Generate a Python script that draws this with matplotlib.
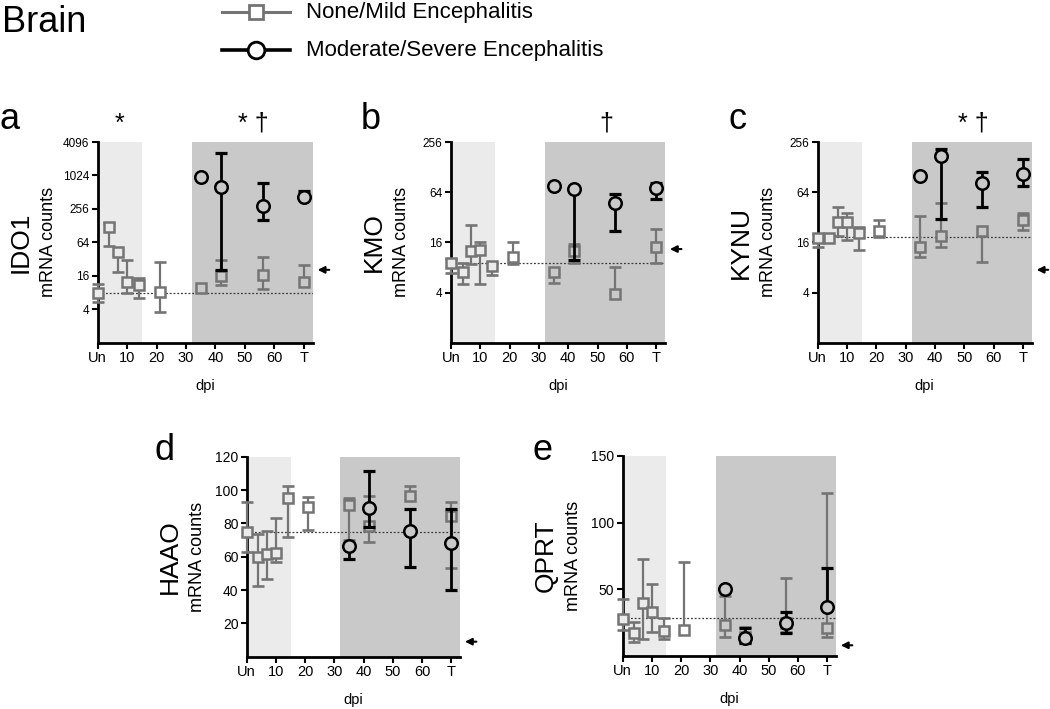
import matplotlib
matplotlib.use("Agg")
import matplotlib.pyplot as plt
from matplotlib.lines import Line2D

plt.rcParams['font.family'] = ['Liberation Sans', 'DejaVu Sans']

# ---- data ----
days_mild = [0, 4, 7, 10, 14, 21, 35, 42, 56, 70]
days_sev = [35, 42, 56, 70]
tick_days = [0, 10, 20, 30, 40, 50, 60, 70]
tick_names = ['Un', '10', '20', '30', '40', '50', '60', 'T']

ido1_mild = [7.8, 121, 43, 12.3, 11, 8.1, 9.8, 15.6, 16.7, 12.3]
ido1_mild_lo = [5.5, 54, 18.4, 7.8, 6.5, 3.5, None, 11, 9.3, None]
ido1_mild_hi = [11.5, 143, None, 31, 14.5, 27.9, None, 31, 34.8, 25.2]
ido1_sev = [968, 640, 294, 416]
ido1_sev_lo = [None, 20.5, 164, None]
ido1_sev_hi = [None, 2556, 735, 549]

kmo_mild = [9.0, 7.0, 12.7, 13, 8.4, 10.8, 7.0, 12.5, 3.8, 14]
kmo_mild_lo = [6.9, 5.0, 8.9, 5.0, 6.5, 8.9, 5.2, 9.0, None, 9.0]
kmo_mild_hi = [10.0, 9.0, 26, 16, 9.0, 16, None, 15.5, 8, 23]
kmo_sev = [75.7, 70, 47.6, 72]
kmo_sev_lo = [None, 9.9, 21.7, 53.6]
kmo_sev_hi = [None, None, 61.6, 83]

kynu_mild = [18.3, 18.3, 28, 28, 21, 22, 14, 19.3, 22, 29.4]
kynu_mild_lo = [14, None, 19.3, 17, 13, 18.5, 10.8, 14, 9.2, 22.6]
kynu_mild_hi = [20, None, 43, 36, 24.4, 29.4, 33, 48, None, 36]
kynu_sev = [101, 176, 82, 105]
kynu_sev_lo = [None, 30.8, 42.4, 76]
kynu_sev_hi = [None, 210, 112, 160]

haao_mild = [75, 60, 61.6, 62, 95, 89.6, 91, 78.4, 96.6, 84.4]
haao_mild_lo = [63, 42.4, 46.4, 56.6, 71.6, 76, 70, 68.6, None, 53]
haao_mild_hi = [92.6, 73.4, 75.4, 83, 102.6, 96, 95.4, 96.4, 102.6, 92.6]
haao_sev = [66.4, 89, 75.6, 68]
haao_sev_lo = [58.6, 78, 54, 40]
haao_sev_hi = [None, 111.6, 88.6, 88.4]

qprt_mild = [28, 17, 39.5, 32.75, 18.75, 19.5, 23.25, 14.5, 24.5, 20.75]
qprt_mild_lo = [19.5, 10.75, 13, 18.25, 12.75, None, 14, 10, 18.25, 14]
qprt_mild_hi = [42.5, 25.75, 73, 53.75, 28.25, 70.75, 45, 22, 58.25, 122]
qprt_sev = [50, 13.75, 25, 37]
qprt_sev_lo = [None, 10, 17, None]
qprt_sev_hi = [None, 20.75, 33.25, 66.25]

# uninfected baseline (dotted line) and arrow level per gene
baselines = {'IDO1': 7.8, 'KMO': 9.0, 'KYNU': 18.5, 'HAAO': 75, 'QPRT': 28.25}
arrows = {'IDO1': 20.5, 'KMO': 13.3, 'KYNU': 7.5, 'HAAO': 9, 'QPRT': 8}
signif = {'IDO1': [(7.5, '*'), (53, '* \u2020')], 'KMO': [(53, '\u2020')],
          'KYNU': [(53, '* \u2020')], 'HAAO': [], 'QPRT': []}

GREY = '#747474'
LIGHT = '#ebebeb'
DARK = '#c9c9c9'


def bg_for(x):
    # symbols are hollow, so fill them with whatever shade is behind
    if x <= 15:
        return LIGHT
    if x >= 32:
        return DARK
    return 'white'


def draw_series(ax, xs, ys, lo, hi, color, marker, ms, lw, z):
    for x, y, l, h in zip(xs, ys, lo, hi):
        if l is not None:
            ax.vlines(x, l, y, color=color, lw=lw, zorder=z, clip_on=False)
            ax.plot(x, l, marker='_', ms=9, mew=lw + 0.3, color=color, zorder=z, clip_on=False)
        if h is not None:
            ax.vlines(x, y, h, color=color, lw=lw, zorder=z, clip_on=False)
            ax.plot(x, h, marker='_', ms=9, mew=lw + 0.3, color=color, zorder=z, clip_on=False)
        ax.plot(x, y, marker=marker, ms=ms, mfc=bg_for(x), mec=color, mew=1.8,
                ls='none', zorder=z + 1, clip_on=False)


def setup_panel(ax, gene, letter, log, ylim, yticks, ytick_fs):
    ax.axvspan(0, 15, color=LIGHT, lw=0, zorder=0)
    ax.axvspan(32, 73, color=DARK, lw=0, zorder=0)
    if log:
        ax.set_yscale('log', base=2)
    ax.set_ylim(*ylim)
    ax.set_xlim(0, 73)
    ax.set_yticks(yticks)
    ax.set_yticklabels([str(t) for t in yticks], fontsize=ytick_fs)
    ax.minorticks_off()
    ax.set_xticks(tick_days)
    ax.set_xticklabels(tick_names, fontsize=10.5)
    ax.set_xlabel('dpi', fontsize=10.5, labelpad=10)
    for s in ['top', 'right']:
        ax.spines[s].set_visible(False)
    for s in ['left', 'bottom']:
        ax.spines[s].set_linewidth(2)
    ax.tick_params(direction='out', length=4, width=1.5, pad=2)
    ax.axhline(baselines[gene], color='#3a3a3a', lw=0.9, ls=(0, (1.5, 1.5)), zorder=1)
    ax.text(-0.36, 0.5, gene, rotation=90, fontsize=19, ha='center', va='center',
            transform=ax.transAxes)
    ax.text(-0.229, 0.5, 'mRNA counts', rotation=90, fontsize=13, ha='center', va='center',
            transform=ax.transAxes)
    ax.annotate('', xy=(1.01, arrows[gene]), xycoords=('axes fraction', 'data'),
                xytext=(1.09, arrows[gene]), textcoords=('axes fraction', 'data'),
                arrowprops=dict(arrowstyle='-|>', color='k', lw=1.5, mutation_scale=10))
    for xd, s in signif[gene]:
        ax.text(xd, 1.09, s, fontsize=18, ha='center', va='center',
                transform=ax.get_xaxis_transform())


fig = plt.figure(figsize=(10.5, 7.09), dpi=100)

panels = [
    ('IDO1', 'a', [0.0930, 0.5166, 0.2048, 0.2831], True, (1, 4096), [4, 16, 64, 256, 1024, 4096], 8.5,
     (ido1_mild, ido1_mild_lo, ido1_mild_hi), (ido1_sev, ido1_sev_lo, ido1_sev_hi)),
    ('KMO', 'b', [0.4295, 0.5166, 0.2038, 0.2831], True, (1, 256), [4, 16, 64, 256], 8.5,
     (kmo_mild, kmo_mild_lo, kmo_mild_hi), (kmo_sev, kmo_sev_lo, kmo_sev_hi)),
    ('KYNU', 'c', [0.7788, 0.5166, 0.2038, 0.2831], True, (1, 256), [4, 16, 64, 256], 8.5,
     (kynu_mild, kynu_mild_lo, kynu_mild_hi), (kynu_sev, kynu_sev_lo, kynu_sev_hi)),
    ('HAAO', 'd', [0.2350, 0.0738, 0.2031, 0.2821], False, (0, 120), [20, 40, 60, 80, 100, 120], 10,
     (haao_mild, haao_mild_lo, haao_mild_hi), (haao_sev, haao_sev_lo, haao_sev_hi)),
    ('QPRT', 'e', [0.5930, 0.0748, 0.2031, 0.2821], False, (0, 150), [50, 100, 150], 10,
     (qprt_mild, qprt_mild_lo, qprt_mild_hi), (qprt_sev, qprt_sev_lo, qprt_sev_hi)),
]

letter_pos = {'a': (10, 129), 'b': (371, 129), 'c': (737, 129), 'd': (165, 460), 'e': (543, 460)}

for gene, letter, rect, log, ylim, yticks, fs, mild, sev in panels:
    ax = fig.add_axes(rect)
    setup_panel(ax, gene, letter, log, ylim, yticks, fs)
    draw_series(ax, days_mild, mild[0], mild[1], mild[2], GREY, 's', 7.5, 1.6, 3)
    draw_series(ax, days_sev, sev[0], sev[1], sev[2], 'black', 'o', 9, 2.0, 5)
    lx, ly = letter_pos[letter]
    fig.text(lx / 1050, 1 - ly / 709, letter, fontsize=26, ha='center', va='baseline')

# title and legend
fig.text(0.002, 1 - 32 / 709, 'Brain', fontsize=26, ha='left', va='baseline')
for ypx, col, mk, ms, lw, label in [(12, GREY, 's', 10.5, 2.2, 'None/Mild Encephalitis'),
                                    (50, 'black', 'o', 12, 2.6, 'Moderate/Severe Encephalitis')]:
    yf = 1 - ypx / 709
    fig.add_artist(Line2D([222 / 1050, 290 / 1050], [yf, yf], color=col, lw=lw,
                          transform=fig.transFigure))
    fig.add_artist(Line2D([256 / 1050], [yf], marker=mk, ms=ms, mfc='white', mec=col, mew=2,
                          transform=fig.transFigure))
    fig.text(306 / 1050, 1 - (ypx + 6) / 709, label, fontsize=16, ha='left', va='baseline')

fig.savefig('out.png', dpi=100)
